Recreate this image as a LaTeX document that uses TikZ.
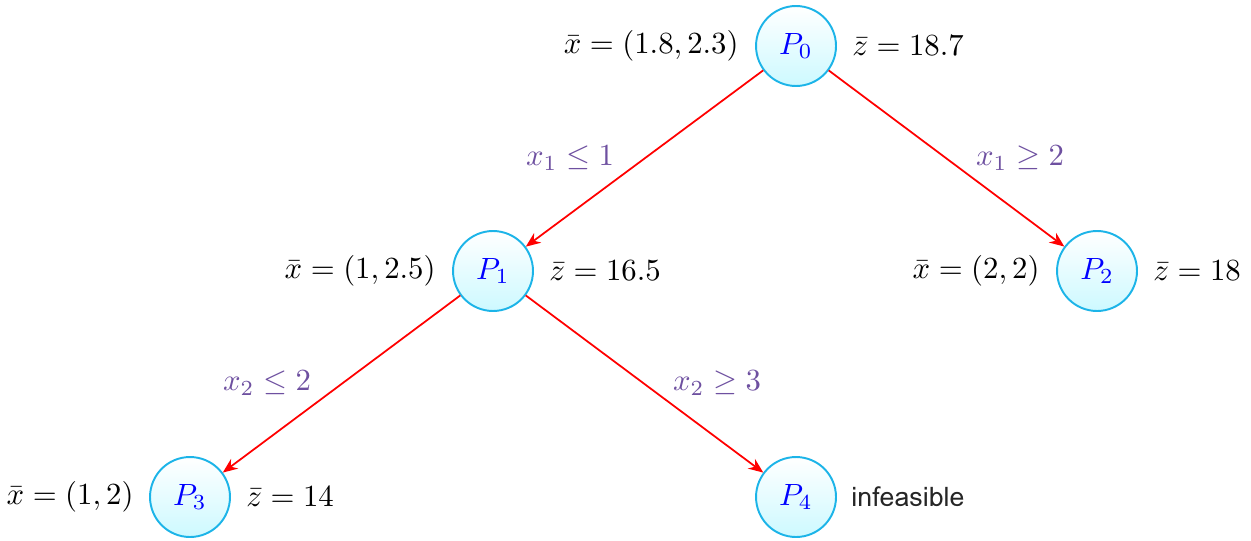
\documentclass[tikz,border=0pt]{standalone}
\usepackage{fontspec}
\newfontfamily\infont{Loma}
\usetikzlibrary{arrows.meta,positioning}
\definecolor{ringc}{RGB}{28,180,232}
\definecolor{fillc}{RGB}{205,249,255}
\definecolor{lblc}{RGB}{110,80,160}
\begin{document}
\begin{tikzpicture}[x=1cm,y=1cm,
  pnode/.style={circle,draw=ringc,line width=0.55pt,minimum size=0.914cm,inner sep=0pt,
    scale=0.875,transform shape,
    top color=white,bottom color=fillc,shading angle=0,text=blue},
  info/.style={inner sep=0pt,scale=0.875,transform shape},
  brlbl/.style={inner sep=0pt,text=lblc,scale=0.875,transform shape},
  branch/.style={red,line width=0.5pt,-{Stealth[length=4.2pt,width=3.4pt]}}]
\useasboundingbox (0,0) rectangle (12.51,-5.40);
\node[pnode] (P0) at (7.96,-0.46) {$P_0$};
\node[pnode] (P1) at (4.93,-2.71) {$P_1$};
\node[pnode] (P2) at (10.97,-2.71) {$P_2$};
\node[pnode] (P3) at (1.90,-4.97) {$P_3$};
\node[pnode] (P4) at (7.96,-4.97) {$P_4$};
\node[info,anchor=east] (x0) at ([xshift=-0.16cm]P0.west) {$\bar x=(1.8,2.3)$};
\node[info,anchor=west] (z0) at ([xshift=0.15cm]P0.east) {$\bar z=18.7$};
\node[info,anchor=east] (x1) at ([xshift=-0.16cm]P1.west) {$\bar x=(1,2.5)$};
\node[info,anchor=west] (z1) at ([xshift=0.15cm]P1.east) {$\bar z=16.5$};
\node[info,anchor=east] (x2) at ([xshift=-0.16cm]P2.west) {$\bar x=(2,2)$};
\node[info,anchor=west] (z2) at ([xshift=0.15cm]P2.east) {$\bar z=18$};
\node[info,anchor=east] (x3) at ([xshift=-0.15cm]P3.west) {$\bar x=(1,2)$};
\node[info,anchor=west] (z3) at ([xshift=0.15cm]P3.east) {$\bar z=14$};
\node[info,anchor=west,text=black!85,font=\infont\fontsize{8.7}{10}\selectfont] (z4) at ([xshift=0.14cm]P4.east) {infeasible};
\draw[branch] (P0) -- (P1);
\draw[branch] (P0) -- (P2);
\draw[branch] (P1) -- (P3);
\draw[branch] (P1) -- (P4);
\node[brlbl] (b1) at (5.70,-1.58) {$x_1\le 1$};
\node[brlbl] (b2) at (10.20,-1.58) {$x_1\ge 2$};
\node[brlbl] (b3) at (2.67,-3.83) {$x_2\le 2$};
\node[brlbl] (b4) at (7.17,-3.83) {$x_2\ge 3$};
\end{tikzpicture}
\end{document}
